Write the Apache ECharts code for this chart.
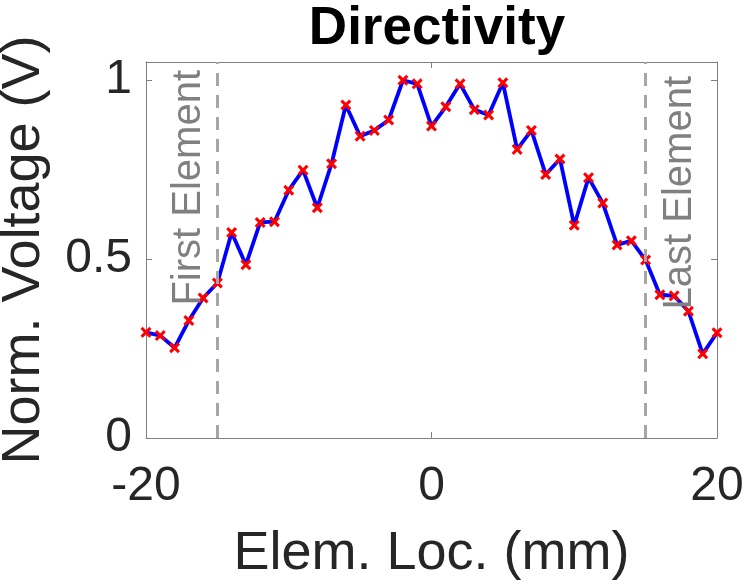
<!DOCTYPE html>
<html>
<head>
<meta charset="utf-8">
<script src="https://cdn.jsdelivr.net/npm/echarts@6/dist/echarts.min.js"></script>
<style>
  html, body { margin: 0; padding: 0; background: #fff; }
  #main { width: 748px; height: 587px; }
</style>
</head>
<body>
<div id="main"></div>
<script>
// 元素位置 (mm)
const elemLoc = [-20, -19, -18, -17, -16, -15, -14, -13, -12, -11, -10, -9, -8, -7, -6, -5, -4, -3, -2, -1,
  0, 1, 2, 3, 4, 5, 6, 7, 8, 9, 10, 11, 12, 13, 14, 15, 16, 17, 18, 19, 20];
// 归一化电压
const normVoltage = [0.295, 0.286, 0.252, 0.328, 0.391, 0.433, 0.574, 0.484, 0.602, 0.604, 0.692,
  0.748, 0.643, 0.766, 0.930, 0.843, 0.859, 0.888, 0.999, 0.989,
  0.871, 0.925, 0.989, 0.917, 0.902, 0.992, 0.806, 0.859, 0.736, 0.779,
  0.594, 0.727, 0.656, 0.539, 0.551, 0.497, 0.400, 0.397, 0.354, 0.235, 0.294];
const xTicks = [-20, 0, 20];
const yTicks = [0, 0.5, 1];
const elemEdges = [-15, 15];
const edgeNames = ['First Element', 'Last Element'];

const fontFamily = '"Liberation Sans", Arial, Helvetica, sans-serif';
const crossPath = 'path://M0,2L2,0L5,3L8,0L10,2L7,5L10,8L8,10L5,7L2,10L0,8L3,5Z';

const myChart = echarts.init(document.getElementById('main'));

const lineStyle = { color: '#808080', width: 1 };
const tickStyle = { color: '#808080', width: 1 };

myChart.setOption({
  animation: false,
  textStyle: { fontFamily: fontFamily },
  title: {
    text: 'Directivity',
    left: 432,
    textAlign: 'center',
    top: -2,
    textStyle: { fontSize: 53, fontWeight: 'bold', color: '#000', fontFamily: fontFamily }
  },
  grid: { left: 146, right: 31, top: 62, bottom: 149, outerBoundsMode: 'none' },
  xAxis: [
    {
      type: 'value', min: -20, max: 20, position: 'bottom',
      name: 'Elem. Loc. (mm)', nameLocation: 'middle', nameGap: 89,
      nameTextStyle: { fontSize: 54, color: '#262626', fontFamily: fontFamily },
      axisLine: { show: true, onZero: false, lineStyle: lineStyle },
      axisTick: { show: true, inside: true, length: 6, lineStyle: tickStyle, customValues: xTicks },
      axisLabel: { fontSize: 48, color: '#262626', margin: 25, customValues: xTicks },
      splitLine: { show: false }
    },
    {
      type: 'value', min: -20, max: 20, position: 'top',
      axisLine: { show: true, onZero: false, lineStyle: lineStyle },
      axisTick: { show: true, inside: true, length: 6, lineStyle: tickStyle, customValues: xTicks },
      axisLabel: { show: false },
      splitLine: { show: false }
    }
  ],
  yAxis: [
    {
      type: 'value', min: 0, max: 1.05, position: 'left',
      name: 'Norm. Voltage (V)', nameLocation: 'middle', nameGap: 95,
      nameTextStyle: { fontSize: 54, color: '#262626', fontFamily: fontFamily },
      axisLine: { show: true, onZero: false, lineStyle: lineStyle },
      axisTick: { show: true, inside: true, length: 6, lineStyle: tickStyle, customValues: yTicks },
      axisLabel: { fontSize: 48, color: '#262626', margin: 14, customValues: yTicks },
      splitLine: { show: false }
    },
    {
      type: 'value', min: 0, max: 1.05, position: 'right',
      axisLine: { show: true, onZero: false, lineStyle: lineStyle },
      axisTick: { show: true, inside: true, length: 6, lineStyle: tickStyle, customValues: yTicks },
      axisLabel: { show: false },
      splitLine: { show: false }
    }
  ],
  series: [
    {
      type: 'line',
      xAxisIndex: 0,
      yAxisIndex: 0,
      data: elemLoc.map((x, i) => [x, normVoltage[i]]),
      lineStyle: { color: '#0000ff', width: 3.8 },
      symbol: crossPath,
      symbolSize: 11,
      showAllSymbol: true,
      itemStyle: { color: '#ff0000' },
      z: 3,
      markLine: {
        silent: true,
        symbol: 'none',
        lineStyle: { color: '#a6a6a6', width: 3, type: [13, 9] },
        data: elemEdges.map((v, i) => ({
          xAxis: v,
          label: {
            show: true,
            formatter: edgeNames[i],
            position: i === 0 ? 'insideEndTop' : 'insideEndBottom',
            distance: i === 0 ? 8 : 14,
            fontSize: 40,
            color: '#808080',
            fontFamily: fontFamily
          }
        }))
      }
    }
  ]
});
</script>
</body>
</html>
